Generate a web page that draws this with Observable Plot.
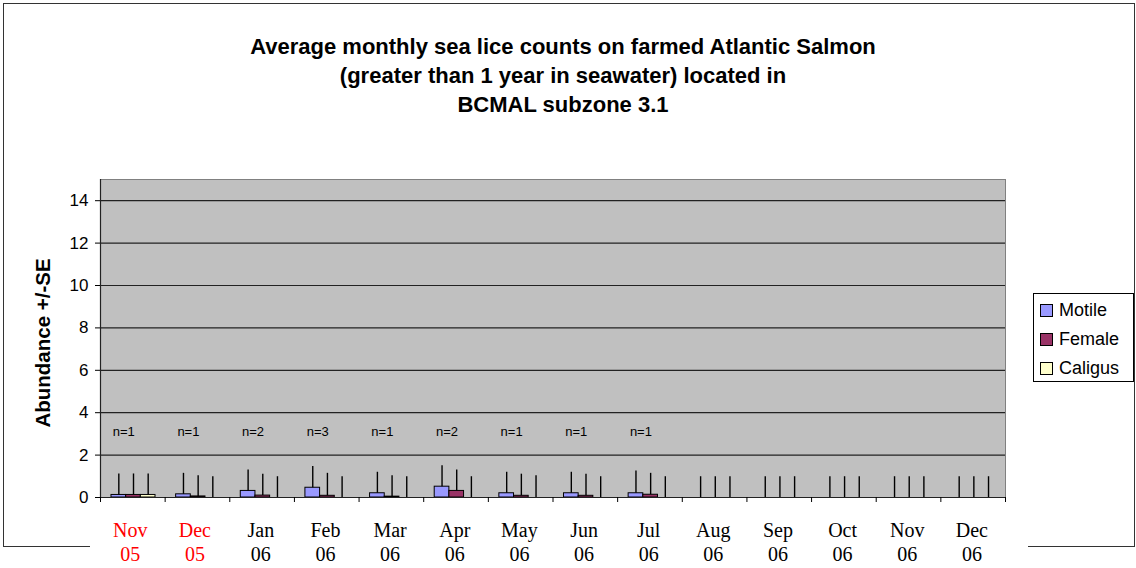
<!DOCTYPE html>
<html><head><meta charset="utf-8">
<script src="https://cdn.jsdelivr.net/npm/d3@7"></script>
<script src="https://cdn.jsdelivr.net/npm/@observablehq/plot@0.6"></script>
<style>
body{margin:0;background:#fff;}
#wrap{position:relative;width:1136px;height:568px;font-family:"Liberation Sans",Arial,sans-serif;overflow:hidden;}
#chart{position:absolute;left:0;top:0;}
.b{position:absolute;background:#333;}
#title{position:absolute;left:0;top:32px;width:1126px;text-align:center;font-weight:bold;font-size:22px;line-height:29px;color:#000;}
#ylab{position:absolute;left:-57px;top:331px;width:200px;height:24px;line-height:24px;text-align:center;font-weight:bold;font-size:20.5px;transform:rotate(-90deg);transform-origin:50% 50%;}
#legend{position:absolute;left:1033px;top:293px;width:99px;height:87px;border:1px solid #000;background:#fff;}
.item{position:absolute;left:6px;height:29px;line-height:29px;font-size:18px;}
.sw{display:inline-block;width:11px;height:11px;border:1px solid #000;margin-right:6px;vertical-align:-1px;}
</style></head><body>
<div id="wrap">
  <div class="b" style="left:3px;top:3px;width:1131px;height:1px"></div>
  <div class="b" style="left:3px;top:3px;width:1px;height:544px"></div>
  <div class="b" style="left:1134px;top:3px;width:1px;height:544px"></div>
  <div class="b" style="left:3px;top:546px;width:87px;height:1px"></div>
  <div class="b" style="left:1028px;top:546px;width:107px;height:1px"></div>
  <div id="chart"></div>
  <div id="title">Average monthly sea lice counts on farmed Atlantic Salmon<br>(greater than 1 year in seawater) located in<br>BCMAL subzone 3.1</div>
  <div id="ylab">Abundance +/-SE</div>
  <div id="legend"></div>
</div>
<script>
const monthNames = ["Nov","Dec","Jan","Feb","Mar","Apr","May","Jun","Jul","Aug","Sep","Oct","Nov","Dec"];
const yearLabels = ["05","05","06","06","06","06","06","06","06","06","06","06","06","06"];
const series = ["Motile","Female","Caligus"];
const colors = ["#9999ff","#993366","#ffffcc"];
const motile   = [0.12,0.15,0.31,0.46,0.20,0.51,0.20,0.20,0.20,0,0,0,0,0];
const motileSE = [0.99,0.99,0.99,1.00,0.99,0.99,0.99,0.99,1.05,0.98,0.98,0.98,0.98,0.98];
const female   = [0.12,0.05,0.09,0.08,0.04,0.31,0.08,0.08,0.13,0,0,0,0,0];
const femaleSE = [0.99,0.98,1.01,1.06,0.99,0.99,1.02,1.02,1.01,0.98,0.98,0.98,0.98,0.98];
const caligus   = [0.12,0,0,0,0,0,0,0,0,0,0,0,0,0];
const caligusSE = [0.99,0.98,0.98,0.98,0.98,0.98,1.03,0.98,0.98,0.98,0.98,0.98,0.98,0.98];
const nLabels = ["n=1","n=1","n=2","n=3","n=1","n=2","n=1","n=1","n=1"];
const yTicks = [0,2,4,6,8,10,12,14];

const vals = [motile, female, caligus];
const ses = [motileSE, femaleSE, caligusSE];
const rows = [];
monthNames.forEach((m, i) => series.forEach((s, k) => rows.push({i, k, series: s, value: vals[k][i], se: ses[k][i]})));

const groupStart = 0.17, barW = 0.227;
const idx = d3.range(monthNames.length);

const chart = Plot.plot({
  width: 1136, height: 568,
  marginLeft: 100, marginRight: 131, marginTop: 179, marginBottom: 71,
  style: {fontFamily: "'Liberation Sans', Arial, sans-serif", background: "transparent", overflow: "visible"},
  x: {domain: [0, monthNames.length], axis: null},
  y: {domain: [0, 15], axis: null},
  color: {domain: series, range: colors},
  marks: [
    Plot.frame({fill: "#c0c0c0", stroke: "#808080"}),
    Plot.ruleY(yTicks.filter(t => t > 0), {stroke: "#222", strokeWidth: 1.2}),
    Plot.rectY(rows, {x1: d => d.i + groupStart + d.k * barW, x2: d => d.i + groupStart + (d.k + 1) * barW, y1: 0, y2: "value", fill: "series", stroke: "#000", strokeWidth: 1}),
    Plot.ruleX(rows, {x: d => d.i + groupStart + (d.k + 0.5) * barW, y1: "value", y2: d => d.value + d.se, stroke: "#000", strokeWidth: 1.4}),
    Plot.ruleX([0], {stroke: "#222", strokeWidth: 1.2}),
    Plot.ruleY([0], {stroke: "#222", strokeWidth: 1.2}),
    Plot.axisY({ticks: yTicks, tickSize: 5, tickPadding: 7, fontSize: 17, label: null, tickFormat: d3.format("d")}),
    Plot.axisX({ticks: d3.range(0, monthNames.length + 1), tickSize: 5, tickFormat: () => "", label: null}),
    Plot.text(nLabels, {x: (d, i) => i + 0.36, y: 3.1, text: d => d, fontSize: 13, fill: "#000"}),
    Plot.text(idx, {filter: i => yearLabels[i] === "05", x: i => i + 0.46, text: i => monthNames[i] + "\n" + yearLabels[i], frameAnchor: "bottom", lineAnchor: "middle", dy: 44, lineHeight: 1.2, fontSize: 20, fontFamily: "'Liberation Serif', 'Times New Roman', serif", fill: "red"}),
    Plot.text(idx, {filter: i => yearLabels[i] !== "05", x: i => i + 0.48, text: i => monthNames[i] + "\n" + yearLabels[i], frameAnchor: "bottom", lineAnchor: "middle", dy: 44, lineHeight: 1.2, fontSize: 20, fontFamily: "'Liberation Serif', 'Times New Roman', serif", fill: "#000"})
  ]
});
document.getElementById("chart").appendChild(chart);

const legend = document.getElementById("legend");
series.forEach((s, k) => {
  const it = document.createElement("div");
  it.className = "item";
  it.style.top = (2 + k * 29) + "px";
  it.innerHTML = `<span class="sw" style="background:${colors[k]}"></span>${s}`;
  legend.appendChild(it);
});
</script>
</body></html>
